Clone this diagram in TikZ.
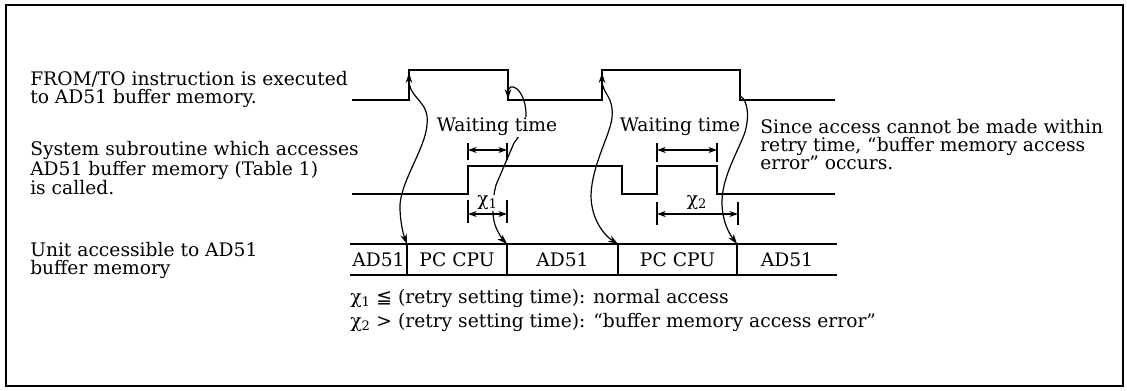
\documentclass[tikz,border=0pt]{standalone}
\usepackage{fontspec}
\setmainfont{DejaVu Serif}
\newfontfamily\symfont{DejaVu Sans}
\usetikzlibrary{arrows.meta}
\begin{document}
\begin{tikzpicture}[x=0.75pt, y=-0.75pt, >={Stealth[length=7.5pt,width=5pt]},
  signal/.style={line width=2pt},
  link/.style={line width=0.9pt},
  dim/.style={line width=0.9pt, {Stealth[length=6.5pt,width=4.5pt]}-{Stealth[length=6.5pt,width=4.5pt]}},
  tick/.style={line width=0.9pt},
  txt/.style={font=\fontsize{14}{13.6}\selectfont, align=left, inner sep=0pt, anchor=north west},
  lbl/.style={font=\fontsize{14}{13.6}\selectfont, fill=white, inner sep=1pt},
  cell/.style={font=\fontsize{14}{13.6}\selectfont, inner sep=0pt}]
\useasboundingbox (0,0) rectangle (1127,391);
\draw[line width=1.5pt] (6,5) rectangle (1123,386);

% captions on the left
\node[txt] (fromto) at (30,71) {FROM/TO instruction is executed\\to AD51 buffer memory.};
\node[txt] (subr) at (30,141) {System subroutine which accesses\\AD51 buffer memory (Table 1)\\is called.};
\node[txt] (unit) at (30,242) {Unit accessible to AD51\\buffer memory};
\node[txt] (note) at (760,119) {Since access cannot be made within\\retry time, “buffer memory access\\error” occurs.};

% waveforms
\draw[signal] (352,100) -| (409,70) -| (508,100) -| (602,70) -| (740,100) -- (835,100);
\draw[signal] (352,194) -| (468,166) -| (622,194) -| (657,166) -| (717,194) -- (835,194);
\coordinate (up1) at (409,73);
\coordinate (dn1) at (508,99);
\coordinate (up2) at (602,73);
\coordinate (dn2) at (740,96);

% access bar
\draw[line width=1.6pt] (350,244) -- (837,244) (350,275) -- (837,275);
\foreach \a/\b/\t/\n in {350/407/AD51/c1, 407/507/PC CPU/c2, 507/618/AD51/c3, 618/737/PC CPU/c4, 737/837/AD51/c5}
  \node[cell] (\n) at ({(\a+\b)/2},259.5) {\t};
\foreach \x/\n in {407/d1, 507/d2, 618/d3, 737/d4} {
  \draw[line width=1.1pt] (\x,244) -- (\x,275);
  \coordinate (\n) at (\x,244);
}

% links from the edges to the bar
\draw[link,<->] (up1) .. controls (409,100) and (430,100) .. (427,125) .. controls (425,150) and (398,185) .. (400,210) .. controls (401,228) and (404,236) .. (d1);
\draw[link,<->] (dn1) .. controls (508,80) and (525,88) .. (526,113) .. controls (527,125) and (520,135) .. (514,143) -- (496,185) .. controls (492,200) and (492,215) .. (495,225) .. controls (498,233) and (503,240) .. (d2);
\draw[link,<->] (up2) .. controls (602,95) and (614,95) .. (612,118) .. controls (610,135) and (592,165) .. (591,195) .. controls (591,220) and (605,236) .. (d3);
\draw[link,->] (dn2) .. controls (748,100) and (750,118) .. (744,135) .. controls (736,155) and (721,180) .. (722,205) .. controls (723,225) and (731,236) .. (d4);

% waiting times
\coordinate (w1a) at (468,150); \coordinate (w1b) at (507,150);
\coordinate (x1a) at (468,214); \coordinate (x1b) at (507,214);
\coordinate (w2a) at (657,150); \coordinate (w2b) at (717,150);
\coordinate (x2a) at (657,214); \coordinate (x2b) at (738,214);
\draw[dim] (w1a) -- (w1b);
\draw[dim] (x1a) -- (x1b);
\draw[dim] (w2a) -- (w2b);
\draw[dim] (x2a) -- (x2b);
\draw[tick] (468,143) -- (468,160) (507,143) -- (507,160);
\draw[tick] (468,200) -- (468,223) (507,200) -- (507,223);
\draw[tick] (657,143) -- (657,162) (717,143) -- (717,162);
\draw[tick] (657,202) -- (657,225) (738,202) -- (738,225);
\node[lbl] (wait1) at (497,127) {Waiting time};
\node[lbl] (wait2) at (680,127) {Waiting time};
\node[lbl, inner sep=0.5pt] (chi1) at (487.5,203) {χ\textsubscript{1}};
\node[lbl, inner sep=0.5pt] (chi2) at (697,203) {χ\textsubscript{2}};

% retry conditions
\node[txt] (cond1) at (350,289) {χ\textsubscript{1} {\symfont ≦} (retry setting time): normal access};
\node[txt] (cond2) at (350,313) {χ\textsubscript{2} > (retry setting time): “buffer memory access error”};
\end{tikzpicture}
\end{document}
